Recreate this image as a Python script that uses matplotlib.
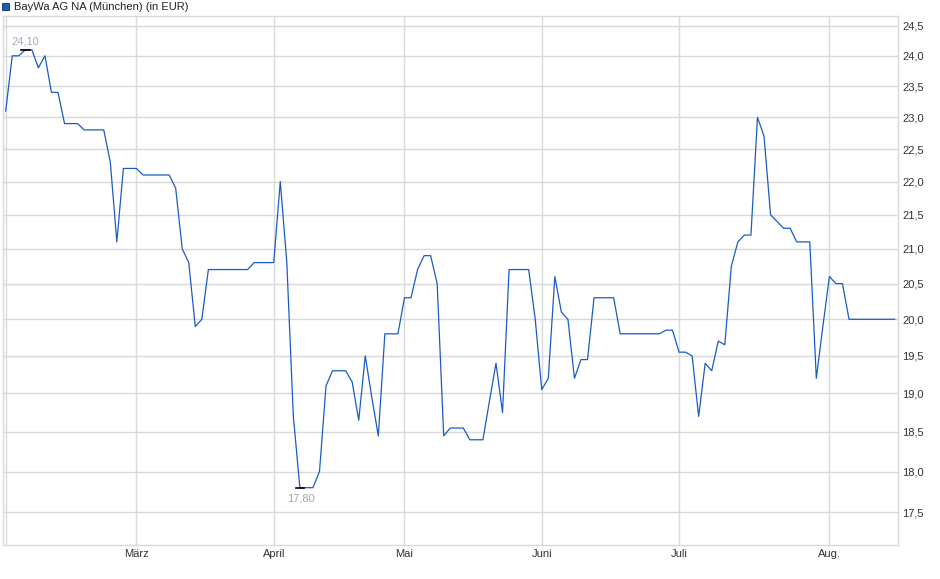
import matplotlib
matplotlib.use("Agg")
import matplotlib.pyplot as plt
from matplotlib.patches import Rectangle
import matplotlib.ticker as mticker
import pandas as pd
import numpy as np

plt.rcParams['font.family'] = ['Liberation Sans', 'DejaVu Sans']

# trading days (Munich exchange), Feb 3 - Aug 15 2025
holidays = ["2025-04-18", "2025-04-21", "2025-05-01"]
dates = pd.bdate_range("2025-02-03", "2025-08-15")
dates = dates[~dates.isin(pd.to_datetime(holidays))]

# closing prices in EUR
prices = [
    23.1, 24.0, 24.0, 24.1, 24.1, 23.8, 24.0, 23.4, 23.4, 22.9,
    22.9, 22.9, 22.8, 22.8, 22.8, 22.8, 22.3, 21.1, 22.2, 22.2,
    22.2, 22.1, 22.1, 22.1, 22.1, 22.1, 21.9, 21.0, 20.8, 19.9,
    20.0, 20.7, 20.7, 20.7, 20.7, 20.7, 20.7, 20.7, 20.8, 20.8,
    20.8, 20.8, 22.0, 20.8, 18.7, 17.8, 17.8, 17.8, 18.0, 19.1,
    19.3, 19.3, 19.3, 19.15, 18.65, 19.5, 18.95, 18.45, 19.8, 19.8,
    19.8, 20.3, 20.3, 20.7, 20.9, 20.9, 20.5, 18.45, 18.55, 18.55,
    18.55, 18.4, 18.4, 18.4, 18.9, 19.4, 18.75, 20.7, 20.7, 20.7,
    20.7, 20.0, 19.05, 19.2, 20.6, 20.1, 20.0, 19.2, 19.45, 19.45,
    20.3, 20.3, 20.3, 20.3, 19.8, 19.8, 19.8, 19.8, 19.8, 19.8,
    19.8, 19.85, 19.85, 19.55, 19.55, 19.5, 18.7, 19.4, 19.3, 19.7,
    19.65, 20.75, 21.1, 21.2, 21.2, 23.0, 22.7, 21.5, 21.4, 21.3,
    21.3, 21.1, 21.1, 21.1, 19.2, 19.9, 20.6, 20.5, 20.5, 20.0,
    20.0, 20.0, 20.0, 20.0, 20.0, 20.0, 20.0,
]

month_names = {2: "", 3: "März", 4: "April", 5: "Mai", 6: "Juni", 7: "Juli", 8: "Aug."}
y_ticks = [17.5, 18.0, 18.5, 19.0, 19.5, 20.0, 20.5, 21.0, 21.5, 22.0, 22.5, 23.0, 23.5, 24.0, 24.5]

df = pd.DataFrame({"date": dates, "price": prices})
df["idx"] = np.arange(len(df))

# first trading day of each month -> x tick
first_days = df.groupby(df["date"].dt.month)["idx"].min()
x_ticks = list(first_days.values)
x_labels = [month_names[m] for m in first_days.index]

fig = plt.figure(figsize=(9.4, 5.79), dpi=100)
ax = fig.add_axes([2.7 / 940, 1 - 545 / 579, (898.3 - 2.7) / 940, (545 - 16) / 579])

grid_col = "#d9d9d9"
ax.plot(df["idx"], df["price"], color="#1a5cc6", linewidth=0.9, zorder=3)

ax.set_yscale("log")
ax.set_ylim(17.108, 24.67)
ax.set_xlim(-0.46, len(df) - 0.46)

ax.yaxis.set_major_locator(mticker.FixedLocator(y_ticks))
ax.yaxis.set_minor_locator(mticker.NullLocator())
ax.yaxis.set_major_formatter(mticker.FuncFormatter(lambda v, p: f"{v:.1f}".replace(".", ",")))
ax.yaxis.tick_right()

ax.set_xticks(x_ticks)
ax.set_xticklabels(x_labels)
ax.xaxis.set_minor_locator(mticker.NullLocator())

ax.grid(True, color=grid_col, linewidth=1.0, zorder=0)
ax.set_axisbelow(True)
for s in ax.spines.values():
    s.set_color(grid_col)
    s.set_linewidth(1.0)

ax.tick_params(axis="y", length=0, pad=3, labelsize=8, labelcolor="#333333")
ax.tick_params(axis="x", length=0, pad=3, labelsize=8, labelcolor="#333333")

# high / low markers
i_max = int(df["price"].idxmax())
i_min = int(df["price"].idxmin())
p_max = df["price"][i_max]
p_min = df["price"][i_min]
ax.plot([i_max - 0.7, i_max + 0.7], [p_max, p_max], color="black", linewidth=1.2, zorder=4)
ax.plot([i_min - 0.6, i_min + 0.7], [p_min, p_min], color="black", linewidth=1.2, zorder=4)
ax.annotate(f"{p_max:.2f}".replace(".", ","), (i_max, p_max), xytext=(0, 6),
            textcoords="offset points", ha="center", va="center", fontsize=8, color="#a4abbb")
ax.annotate(f"{p_min:.2f}".replace(".", ","), (i_min, p_min), xytext=(0.5, -7.5),
            textcoords="offset points", ha="center", va="center", fontsize=8, color="#aaa49c")

# legend square + title
fig.patches.append(Rectangle((2 / 940, 1 - 10 / 579), 7 / 940, 7 / 579, transform=fig.transFigure,
                             facecolor="#1a5cc6", edgecolor="#1a2a50", linewidth=0.6))
fig.text(14 / 940, 1 - 7 / 579, "BayWa AG NA (München) (in EUR)", fontsize=8,
         color="#222222", va="center", ha="left")

plt.savefig("out.png", dpi=100)
